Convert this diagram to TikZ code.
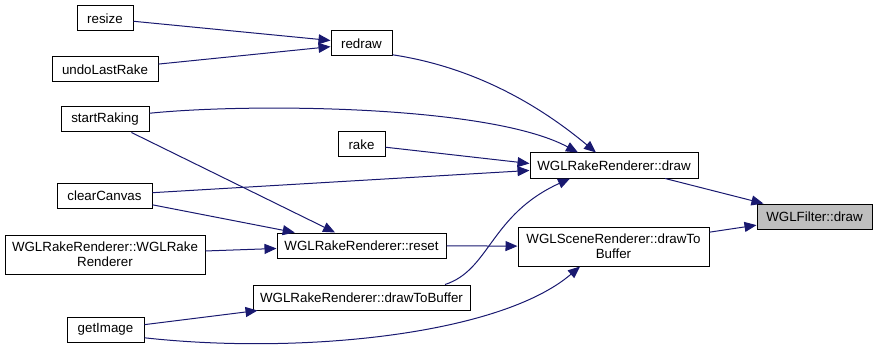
\documentclass[tikz,border=0pt]{standalone}
\usepackage{fontspec}
\setmainfont{Liberation Sans}
\usetikzlibrary{arrows.meta}

\definecolor{edgeblue}{HTML}{191970}
\definecolor{boxgrey}{HTML}{BFBFBF}

\begin{document}
\begin{tikzpicture}[x=0.75pt,y=-0.75pt,font=\fontsize{10}{11}\selectfont]
        \tikzstyle{fn}=[draw=black, line width=0.75pt, rectangle, inner sep=0pt, minimum height=18.75pt, align=center]
        \tikzstyle{fn2}=[fn, minimum height=29.25pt]
        \tikzstyle{call}=[edgeblue, line width=0.75pt, -{Triangle[length=9pt,width=7.5pt]}]
        \useasboundingbox (0,0) rectangle (877,349);
        % callers, left column
        \node[fn, minimum width=42pt]     (resize)   at (105,18.5)  {resize};
        \node[fn, minimum width=79.5pt]   (undo)     at (105,69.5)  {undoLastRake};
        \node[fn, minimum width=66pt]     (start)    at (105,119.5) {startRaking};
        \node[fn, minimum width=71.25pt]  (clear)    at (104.5,195.5) {clearCanvas};
        \node[fn2, minimum width=150pt]   (ctor)     at (105,254.5) {WGLRakeRenderer::WGLRake\\Renderer};
        \node[fn, minimum width=57.75pt]  (getimg)   at (105.5,329.5) {getImage};
        % middle column
        \node[fn, minimum width=45.75pt]  (redraw)   at (361.5,43.5)  {redraw};
        \node[fn, minimum width=35.25pt]  (rake)     at (361.5,144.5) {rake};
        \node[fn, minimum width=126.75pt] (reset)    at (361.5,245.5) {WGLRakeRenderer::reset};
        \node[fn, minimum width=162.75pt] (rakebuf)  at (361.5,297.5) {WGLRakeRenderer::drawToBuffer};
        % right columns
        \node[fn, minimum width=126pt]    (rakedraw) at (614,165.5)   {WGLRakeRenderer::draw};
        \node[fn2, minimum width=143.25pt] (scenebuf) at (613.5,246.5) {WGLSceneRenderer::drawTo\\Buffer};
        \node[fn, fill=boxgrey, minimum width=86.25pt] (filter) at (814.5,216.5) {WGLFilter::draw};
        % calls
        \draw[call] (resize) -- (redraw);
        \draw[call] (undo) -- (redraw);
        \draw[call] (start.8) .. controls (250,103) and (490,105) .. (rakedraw.north west -| 578,0);
        \draw[call] (start) -- (reset);
        \draw[call] (redraw.-20) .. controls (480,68) and (545,110) .. (rakedraw.north west -| 596,0);
        \draw[call] (rake) -- ([yshift=1.5pt]rakedraw.west);
        \draw[call] (clear) -- (rakedraw);
        \draw[call] (clear) -- (reset);
        \draw[call] (ctor) -- (reset);
        \draw[call] (reset) -- (scenebuf);
        \draw[call] (rakebuf.north east -| 445,0) .. controls (490,270) and (490,215) .. (rakedraw.south west -| 570,0);
        \draw[call] (getimg) -- (rakebuf);
        \draw[call] (getimg.-12) .. controls (300,355) and (500,335) .. (scenebuf.south west -| 580,0);
        \draw[call] (rakedraw) -- (filter);
        \draw[call] (scenebuf) -- (filter);
\end{tikzpicture}
\end{document}
